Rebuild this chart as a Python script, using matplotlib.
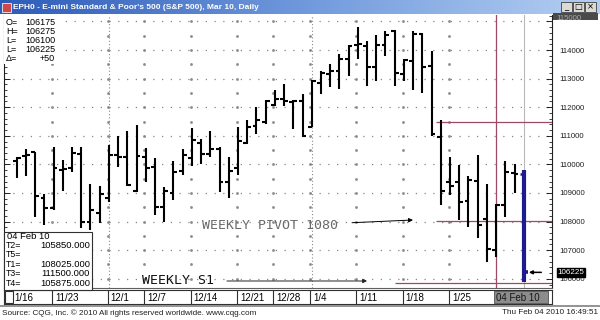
import matplotlib

matplotlib.use("Agg")
import matplotlib.pyplot as plt
import matplotlib.transforms as mtransforms
import numpy as np
from matplotlib.colors import LinearSegmentedColormap
from matplotlib.patches import Rectangle
from matplotlib.ticker import MultipleLocator

W, H = 600, 320
SANS = "Liberation Sans"
MONO = "DejaVu Sans Mono"

# daily OHLC, EPH0, 17 Nov 2009 .. 04 Feb 2010 (one entry per bar)
opens = [110125, 110300, 110425, 108825, 108475, 109800, 109875, 110375, 107975, 108300,
         108825, 110325, 110275, 109075, 110275, 109925, 108525, 109000, 109775, 110225,
         110750, 110350, 110525, 109400, 109875, 110750, 111350, 111500, 112075, 112275,
         112175, 112200, 111325, 112850, 113175, 113275, 113675, 114175, 114125, 113400,
         114175, 114675, 113175, 113625, 114550, 113425, 110950, 109400, 109400, 108725,
         109425, 108075, 107000, 108575, 109700, 109675]
highs = [110275, 110525, 110450, 108975, 110625, 110150, 110600, 110625, 109325, 109250,
         110675, 111000, 111175, 111375, 110575, 110225, 109225, 110125, 110525, 111275,
         110900, 111175, 110600, 110250, 111300, 111550, 112000, 112250, 112600, 112825,
         112250, 112475, 112950, 113250, 113525, 113875, 114175, 114800, 114300, 114525,
         114675, 114700, 113675, 114675, 114600, 113950, 111550, 110275, 109975, 109600,
         110325, 109325, 108625, 110125, 110025, 109800]
lows = [109525, 109600, 108175, 107875, 108400, 109075, 109750, 107775, 107700, 107950,
        108700, 109925, 109250, 109050, 109400, 108225, 108000, 108750, 109625, 109950,
        110025, 110275, 109050, 108825, 109625, 110700, 111075, 111425, 112025, 112025,
        111250, 110975, 111300, 112475, 112700, 112650, 113075, 113700, 112750, 112900,
        113800, 112725, 112925, 112600, 112500, 111000, 108575, 108925, 108050, 107825,
        107425, 106600, 106750, 108175, 109000, 105875]
closes = [110225, 110325, 108900, 108475, 109875, 109850, 110400, 107975, 108400, 108975,
          110325, 110275, 109275, 110300, 109875, 108525, 109075, 109725, 110325, 110850,
          110350, 110525, 109400, 109775, 110825, 111325, 111550, 112225, 112300, 112200,
          112200, 111000, 112900, 113200, 113275, 113700, 114150, 114225, 113400, 114175,
          114525, 113200, 113650, 114575, 113400, 111075, 109075, 109250, 108700, 109450,
          107875, 107025, 108575, 109725, 109675, 106225]

week_starts = [4, 10, 14, 19, 24, 28, 32, 37, 42, 47]
week_labels = ["11/23", "12/1", "12/7", "12/14", "12/21", "12/28", "1/4", "1/11", "1/18", "1/25"]
first_label = "1/16"
month_starts = [10, 32]
current_week = 52
current_label = "04 Feb 10"

price_ticks = [106000, 107000, 108000, 109000, 110000, 111000, 112000, 113000, 114000, 115000]
price_labels = ["106000", "107000", "108000", "109000", "110000", "111000", "112000",
                "113000", "114000", ""]
last_price = 106225

# weekly pivot targets
t_upper = 111500   # T3
t_pivot = 108025   # T1
t_lower = 105850   # T2

info_labels = ["O=", "H=", "L=", "L=", "\u0394="]
info_values = ["106175", "106275", "106100", "106225", "+50"]
target_labels = ["T2=", "T5=", "T1=", "T3=", "T4="]
target_values = ["105850.000", "", "108025.000", "111500.000", "105875.000"]

title = "EPH0 - E-mini Standard & Poor's 500 (S&P 500), Mar 10, Daily"
footer_left = "Source: CQG, Inc. \u00a9 2010 All rights reserved worldwide. www.cqg.com"
footer_right = "Thu Feb 04 2010 16:49:51"


def px_box(x0, y0, x1, y1):
    return [x0 / W, 1 - y1 / H, (x1 - x0) / W, (y1 - y0) / H]


fig = plt.figure(figsize=(W / 100, H / 100), dpi=100)
fig.patch.set_facecolor("white")

# ---- price panel
ax = fig.add_axes(px_box(4, 15, 552, 288))
XLIM = (-1.38, 58.06)
ax.set_xlim(*XLIM)
ax.set_ylim(105678, 115224)

x = np.arange(len(opens))
o, h, l, c = (np.array(a) for a in (opens, highs, lows, closes))
tick = 0.42
ax.vlines(x[:-1], l[:-1], h[:-1], color="black", lw=1.5, zorder=4)
ax.hlines(o[:-1], x[:-1] - tick, x[:-1], color="black", lw=1.5, zorder=4)
ax.hlines(c[:-1], x[:-1], x[:-1] + tick, color="black", lw=1.5, zorder=4)
# current bar in blue
blue = "#1c1c8e"
ax.vlines(x[-1:], l[-1:], h[-1:], color=blue, lw=3.0, zorder=5)
ax.hlines(o[-1:], x[-1:] - tick, x[-1:], color=blue, lw=1.8, zorder=5)
ax.hlines(c[-1:], x[-1:], x[-1:] + 0.5, color=blue, lw=2.6, zorder=5)

# grid
ax.set_xticks([])
ax.set_yticks(price_ticks, price_labels)
ax.yaxis.set_minor_locator(MultipleLocator(200))
ax.yaxis.grid(True, which="major", ls=(0, (1, 6)), color="#858585", lw=0.9)
seps = np.array(week_starts) - 0.15
half_levels = np.arange(105500, 115500, 500)
ax.plot(np.repeat(seps, len(half_levels)), np.tile(half_levels, len(seps)),
        ls="none", marker="s", ms=0.9, color="#8a8a8a", zorder=1)
ax.vlines(month_starts, *ax.get_ylim(), color="#8a8a8a", lw=0.8, ls=(0, (1, 2)), zorder=1)

# pivot period markers
maroon = "#9c4a68"
ax.axvline(current_week, color=maroon, lw=0.9, zorder=2)
ax.axvline(x[-1], color="#b8b8b8", lw=0.8, zorder=2)
ax.hlines([t_upper, t_pivot], 45.5, XLIM[1], color=maroon, lw=0.9, zorder=2)
ax.hlines([t_lower], 41.0, XLIM[1], color=maroon, lw=0.9, zorder=2)

ax.yaxis.tick_right()
ax.tick_params(axis="y", which="both", direction="in", left=True, right=True,
               labelleft=False, labelright=True, labelsize=5.6, pad=5,
               colors="#202020")
ax.tick_params(axis="y", which="major", length=4, width=0.7)
ax.tick_params(axis="y", which="minor", length=2, width=0.6)
for lab in ax.get_yticklabels():
    lab.set_fontfamily(SANS)
for side in ("left", "right"):
    ax.spines[side].set_color("#202020")
    ax.spines[side].set_linewidth(0.8)
ax.spines["top"].set_visible(False)
ax.spines["bottom"].set_color("#606060")

# annotations
ax.text(20.1, 107846, "WEEKLY PIVOT 1080", family=MONO, fontsize=9.5,
        color="#6a6a6a", va="center", ha="left", zorder=6)
ax.annotate("", xy=(42.98, 108056), xytext=(36.37, 107961),
            arrowprops=dict(arrowstyle="-|>", color="black", lw=0.7,
                            mutation_scale=6, shrinkA=0, shrinkB=0))
ax.text(13.59, 105923, "WEEKLY S1", family=MONO, fontsize=9.5,
        color="#111111", va="center", ha="left", zorder=6)
ax.annotate("", xy=(38.0, 105923), xytext=(22.8, 105923),
            arrowprops=dict(arrowstyle="-|>", color="#222222", lw=0.7,
                            mutation_scale=6, shrinkA=0, shrinkB=0))
ax.annotate("", xy=(55.55, last_price), xytext=(56.9, last_price),
            arrowprops=dict(arrowstyle="-|>", color="black", lw=1.1,
                            mutation_scale=5, shrinkA=0, shrinkB=0))

# last price flag on the scale
trans = mtransforms.blended_transform_factory(ax.transAxes, ax.transData)
ax.text(1.01, last_price, str(last_price), transform=trans, color="white",
        family=SANS, fontsize=5.8, va="center", ha="left", clip_on=False, zorder=10,
        bbox=dict(boxstyle="square,pad=0.12", fc="black", ec="black"))

# quote box (top left)
ax.add_patch(Rectangle((0.0, 0.82), 0.1, 0.18, transform=ax.transAxes,
                       fc="white", ec="none", zorder=7))
for i, (lab, val) in enumerate(zip(info_labels, info_values)):
    yp = 22.7 + i * 8.9
    fig.text(6 / W, 1 - yp / H, lab, family=SANS, fontsize=6.5, va="center", zorder=8)
    fig.text(55 / W, 1 - yp / H, val, family=SANS, fontsize=6.5, va="center",
             ha="right", zorder=8)

# targets box (bottom left)
fig.patches.append(Rectangle((4 / W, 1 - 290 / H), 88 / W, 58 / H,
                             transform=fig.transFigure, fc="white", ec="#303030",
                             lw=0.8, zorder=7))
fig.text(7 / W, 1 - 236.5 / H, "04 Feb 10", family=SANS, fontsize=6.8, va="center", zorder=8)
for i, (lab, val) in enumerate(zip(target_labels, target_values)):
    yp = 245.5 + i * 9.4
    fig.text(6 / W, 1 - yp / H, lab, family=SANS, fontsize=6.3, va="center", zorder=8)
    fig.text(90 / W, 1 - yp / H, val, family=SANS, fontsize=6.8, va="center",
             ha="right", zorder=8)

# ---- date strip
sax = fig.add_axes(px_box(4, 290, 552, 304))
sax.set_xlim(*XLIM)
sax.set_ylim(0, 1)
sax.set_xticks([])
sax.set_yticks([])
for sp in sax.spines.values():
    sp.set_color("#303030")
    sp.set_linewidth(0.8)
sax.add_patch(Rectangle((-1.25, 0.1), 0.85, 0.8, fc="white", ec="#303030", lw=0.8))
sax.text(-0.25, 0.45, first_label, family=SANS, fontsize=7, va="center")
sax.vlines(seps, 0, 1, color="#303030", lw=0.8)
for s, lab in zip(week_starts, week_labels):
    sax.text(s + 0.2, 0.45, lab, family=SANS, fontsize=7, va="center")
sax.add_patch(Rectangle((current_week - 0.2, 0.08), 5.85, 0.84, fc="#8c8c8c", ec="#505050", lw=0.6))
sax.text(current_week - 0.05, 0.45, current_label, family=SANS, fontsize=7,
         va="center", color="#151515")

# footer
fig.add_artist(plt.Line2D([0, 1], [1 - 305.5 / H] * 2, color="#8a8a8a", lw=1.3))
fig.text(2 / W, 1 - 313 / H, footer_left, family=SANS, fontsize=5.9, va="center", color="#202020")
fig.text(598 / W, 1 - 313 / H, footer_right, family=SANS, fontsize=5.9, va="center",
         ha="right", color="#202020")

# top scale stub (clipped 115000 flag)
fig.patches.append(Rectangle((553 / W, 1 - 20 / H), 45 / W, 7 / H, transform=fig.transFigure,
                             fc="#4a4a4a", ec="none", zorder=3))
fig.text(556 / W, 1 - 18 / H, "115000", family=SANS, fontsize=5.6, color="#a8a8a8",
         va="center", zorder=4)

# ---- window title bar
tax = fig.add_axes(px_box(0, 0, 600, 14))
cmap = LinearSegmentedColormap.from_list("xp", ["#2d5bb8", "#6f98dc", "#b4cff2"])
tax.imshow(np.linspace(0, 1, 256)[None, :], cmap=cmap, aspect="auto",
           extent=[0, 600, 14, 0])
tax.set_xlim(0, 600)
tax.set_ylim(14, 0)
tax.axis("off")
tax.add_patch(Rectangle((2, 2.5), 9, 9, fc="#d04848", ec="#f0f0f0", lw=0.6))
tax.text(13, 7.2, title, family=SANS, fontsize=6, fontweight="bold", color="white", va="center")
for bx, sym in zip([561, 573, 585], ["_", "\u25a1", "\u00d7"]):
    tax.add_patch(Rectangle((bx, 2), 11, 10, fc="#dcdad2", ec="#404040", lw=0.6))
    tax.text(bx + 5.5, 7, sym, ha="center", va="center", fontsize=6,
             family="DejaVu Sans", color="black")

fig.savefig("out.png", dpi=100)
plt.close(fig)
